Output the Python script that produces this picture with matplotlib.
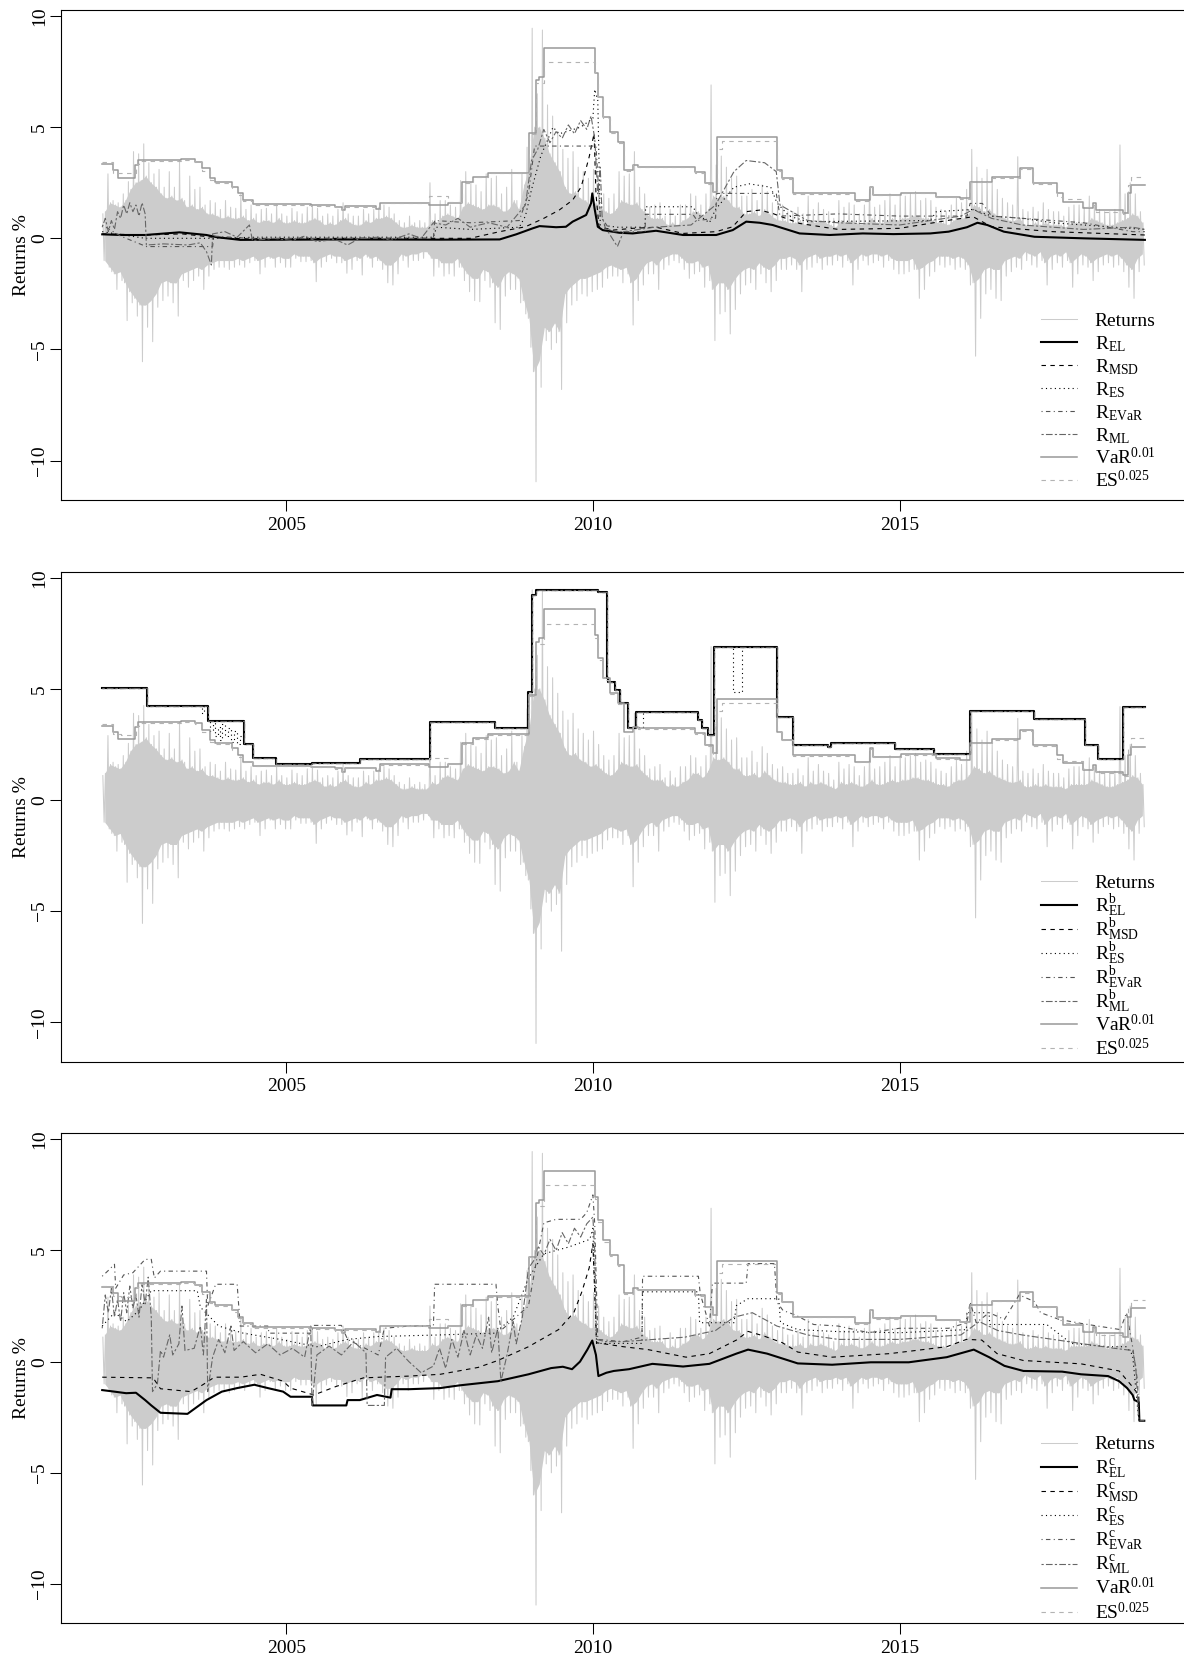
import matplotlib
matplotlib.use('Agg')
import matplotlib.pyplot as plt
import numpy as np

plt.rcParams['font.family'] = ['Liberation Serif', 'DejaVu Serif']
plt.rcParams['mathtext.fontset'] = 'custom'
plt.rcParams['mathtext.rm'] = 'Liberation Serif'
plt.rcParams['mathtext.it'] = 'Liberation Serif:italic'
plt.rcParams['mathtext.bf'] = 'Liberation Serif:bold'

# ---------------- data ----------------
# monthly extreme daily returns (%), Jan 2002 .. Dec 2018
ret_hi = [1.1, 2.9, 1.7, 1.6, 2.0, 2.55, 3.9, 3.8, 4.25, 3.4, 2.9, 3.1,
          2.3, 3.0, 2.3, 3.5, 1.7, 2.8, 2.2, 2.3, 1.5, 1.7, 1.6, 1.3,
          1.7, 1.4, 1.35, 2.0, 1.3, 1.5, 1.1, 1.3, 1.35, 1.1, 1.5, 1.1,
          1.0, 1.35, 1.2, 1.1, 1.4, 1.5, 1.35, 1.0, 1.1, 1.0, 1.3, 1.6,
          1.1, 1.0, 1.0, 1.3, 1.1, 1.3, 1.4, 1.5, 1.4, 1.1, 0.8, 0.7,
          1.0, 0.7, 0.8, 0.7, 2.5, 1.1, 1.7, 1.7, 1.5, 1.4, 2.6, 3.0,
          2.5, 2.4, 2.1, 2.9, 2.7, 2.8, 2.0, 2.3, 3.1, 1.7, 2.9, 4.1,
          9.45, 6.5, 9.37, 6.0, 5.5, 4.8, 4.0, 3.6, 3.9, 3.2, 3.0, 2.7,
          3.1, 2.5, 2.0, 1.8, 2.0, 3.0, 2.8, 2.9, 3.9, 2.3, 2.0, 1.4,
          1.5, 1.6, 1.0, 1.3, 1.0, 1.5, 1.5, 2.0, 1.9, 1.5, 2.0, 6.9,
          3.3, 3.7, 3.2, 2.7, 2.8, 1.9, 1.9, 2.2, 1.7, 2.4, 2.1, 1.6,
          1.4, 1.5, 1.2, 1.2, 1.4, 1.1, 1.9, 1.3, 1.6, 1.3, 1.2, 0.9,
          1.7, 1.4, 1.6, 1.5, 1.1, 1.5, 2.2, 1.4, 1.5, 1.7, 2.0, 1.5,
          2.0, 1.9, 2.0, 2.1, 1.7, 1.8, 1.7, 1.4, 1.3, 1.2, 1.5, 1.8,
          1.6, 2.2, 4.0, 3.2, 2.7, 3.1, 2.5, 2.2, 1.8, 1.6, 1.5, 3.67,
          1.3, 1.2, 1.4, 1.2, 1.6, 1.3, 1.2, 1.2, 1.0, 1.4, 1.5, 1.5,
          1.4, 1.9, 1.5, 1.3, 1.2, 1.2, 1.3, 4.2, 2.0, 2.5, 2.0, 1.2]
ret_lo = [-1.0, -1.5, -2.3, -1.9, -3.7, -2.9, -3.5, -5.55, -4.0, -4.65, -3.1, -2.8,
          -2.6, -2.9, -3.5, -1.9, -2.2, -1.9, -1.7, -2.3, -1.7, -1.4, -1.3, -1.3,
          -1.4, -1.3, -1.2, -1.3, -1.1, -1.0, -1.6, -1.3, -0.9, -1.3, -1.1, -1.3,
          -1.3, -0.9, -1.05, -1.05, -1.0, -1.95, -1.3, -1.05, -0.9, -1.1, -1.1, -1.57,
          -1.4, -1.0, -1.65, -0.85, -1.3, -1.0, -1.4, -2.0, -2.1, -1.6, -1.0, -1.3,
          -1.0, -1.0, -0.9, -0.7, -1.7, -1.3, -1.7, -1.6, -1.7, -1.3, -1.9, -2.4,
          -2.8, -2.85, -1.9, -2.2, -3.8, -4.1, -2.6, -2.3, -2.3, -2.9, -3.4, -4.9,
          -10.95, -6.7, -4.6, -5.0, -4.7, -6.8, -3.8, -3.0, -2.8, -2.5, -2.6, -2.4,
          -2.3, -2.2, -1.8, -1.7, -1.7, -2.0, -1.6, -3.9, -2.8, -2.1, -1.6, -1.6,
          -2.3, -1.4, -1.2, -1.0, -1.1, -1.4, -1.8, -1.6, -1.5, -2.2, -1.9, -4.6,
          -3.4, -3.3, -4.3, -3.2, -2.5, -2.1, -2.0, -2.3, -1.6, -2.0, -2.4, -1.9,
          -1.4, -1.4, -1.2, -1.4, -2.4, -1.4, -1.3, -1.1, -1.4, -1.2, -1.2, -1.0,
          -1.3, -1.0, -2.1, -1.4, -1.0, -1.2, -1.1, -1.0, -1.3, -1.0, -1.4, -1.6,
          -1.6, -1.5, -1.4, -2.7, -2.3, -1.7, -1.5, -1.2, -1.3, -1.2, -1.4, -1.3,
          -1.4, -2.1, -5.3, -3.6, -2.5, -2.3, -2.7, -2.8, -1.7, -1.5, -1.3, -1.4,
          -1.0, -1.2, -1.3, -1.0, -2.1, -1.4, -1.1, -1.3, -1.0, -2.2, -1.6, -1.2,
          -1.3, -1.9, -1.5, -1.2, -1.1, -1.3, -1.2, -1.5, -2.2, -2.7, -1.5, -1.2]
# monthly dense band of daily returns (%), Jan 2002 .. Dec 2018
core_hi = [1.2, 1.6, 1.5, 1.4, 1.7, 2.2, 2.5, 2.6, 2.8, 2.5, 2.3, 2.0,
           1.8, 1.9, 1.7, 1.8, 1.4, 1.5, 1.3, 1.4, 1.1, 1.1, 1.0, 0.9,
           1.0, 0.9, 0.9, 1.0, 0.8, 0.9, 0.7, 0.8, 0.8, 0.7, 0.9, 0.7,
           0.7, 0.8, 0.7, 0.7, 0.8, 0.9, 0.8, 0.6, 0.7, 0.6, 0.8, 0.9,
           0.7, 0.6, 0.6, 0.8, 0.7, 0.9, 0.9, 1.0, 0.9, 0.7, 0.5, 0.5,
           0.6, 0.5, 0.5, 0.5, 0.8, 0.7, 1.0, 1.1, 1.0, 0.9, 1.4, 1.6,
           1.5, 1.4, 1.3, 1.5, 1.5, 1.4, 1.2, 1.3, 1.7, 1.3, 2.4, 3.2,
           5.0, 5.0, 4.5, 3.8, 3.4, 3.0, 2.3, 2.0, 2.1, 1.8, 1.7, 1.5,
           1.6, 1.4, 1.2, 1.1, 1.3, 1.7, 1.6, 1.5, 1.6, 1.3, 1.1, 0.9,
           0.9, 0.9, 0.6, 0.7, 0.6, 0.8, 0.9, 1.2, 1.2, 1.0, 1.3, 1.9,
           1.8, 1.9, 1.7, 1.4, 1.4, 1.1, 1.1, 1.2, 1.0, 1.3, 1.1, 0.9,
           0.8, 0.8, 0.7, 0.7, 0.8, 0.6, 0.8, 0.7, 0.8, 0.7, 0.6, 0.5,
           0.8, 0.7, 0.8, 0.7, 0.6, 0.7, 0.9, 0.7, 0.7, 0.8, 0.9, 0.8,
           0.9, 0.9, 1.0, 1.0, 0.9, 0.9, 0.8, 0.7, 0.7, 0.6, 0.8, 0.9,
           0.9, 1.1, 1.5, 1.4, 1.2, 1.3, 1.1, 1.0, 0.9, 0.8, 0.8, 0.9,
           0.6, 0.6, 0.7, 0.6, 0.7, 0.6, 0.6, 0.6, 0.5, 0.7, 0.7, 0.7,
           0.7, 0.9, 0.8, 0.7, 0.6, 0.6, 0.7, 0.8, 0.9, 1.1, 1.0, 0.7]
core_lo = [-1.0, -1.3, -1.6, -1.5, -2.0, -2.4, -2.7, -3.0, -3.0, -2.8, -2.5, -2.0,
           -1.9, -2.0, -2.0, -1.6, -1.5, -1.4, -1.3, -1.4, -1.2, -1.1, -1.0, -1.0,
           -1.0, -1.0, -0.9, -1.0, -0.9, -0.8, -1.0, -0.9, -0.8, -0.9, -0.8, -0.9,
           -0.9, -0.7, -0.8, -0.8, -0.8, -1.1, -0.9, -0.8, -0.7, -0.8, -0.8, -1.0,
           -0.9, -0.8, -0.9, -0.7, -0.9, -0.8, -1.0, -1.2, -1.2, -1.0, -0.7, -0.8,
           -0.7, -0.7, -0.6, -0.6, -0.9, -0.9, -1.1, -1.1, -1.1, -0.9, -1.3, -1.6,
           -1.8, -1.8, -1.4, -1.5, -2.0, -2.2, -1.7, -1.5, -1.6, -1.8, -2.8, -3.6,
           -6.0, -5.5, -4.0, -4.2, -3.8, -4.2, -2.5, -2.2, -2.0, -1.8, -1.8, -1.7,
           -1.6, -1.5, -1.3, -1.2, -1.3, -1.4, -1.3, -2.0, -1.8, -1.4, -1.1, -1.0,
           -1.2, -0.9, -0.8, -0.7, -0.7, -0.9, -1.1, -1.1, -1.0, -1.3, -1.2, -2.3,
           -2.0, -2.0, -2.3, -1.9, -1.6, -1.4, -1.3, -1.4, -1.1, -1.3, -1.4, -1.2,
           -0.9, -0.9, -0.8, -0.9, -1.2, -0.9, -0.8, -0.7, -0.9, -0.8, -0.8, -0.7,
           -0.8, -0.7, -1.1, -0.9, -0.7, -0.8, -0.7, -0.7, -0.8, -0.7, -0.9, -1.0,
           -1.0, -1.0, -0.9, -1.4, -1.3, -1.1, -1.0, -0.8, -0.8, -0.8, -0.9, -0.8,
           -0.9, -1.2, -2.0, -1.8, -1.4, -1.3, -1.4, -1.4, -1.0, -0.9, -0.8, -0.9,
           -0.6, -0.7, -0.8, -0.6, -1.1, -0.8, -0.7, -0.8, -0.6, -1.1, -0.9, -0.7,
           -0.8, -1.1, -0.9, -0.8, -0.7, -0.8, -0.7, -0.9, -1.2, -1.4, -0.9, -0.7]

VAR = [(2002.0, 3.34), (2002.18, 3.07), (2002.26, 2.73), (2002.535, 3.30), (2002.59, 3.52),
       (2003.28, 3.57), (2003.51, 3.45), (2003.62, 3.15), (2003.76, 2.70), (2003.84, 2.55),
       (2004.11, 2.32), (2004.22, 2.02), (2004.30, 1.72), (2004.46, 1.54), (2005.41, 1.50),
       (2005.80, 1.42), (2005.905, 1.27), (2005.96, 1.45), (2006.47, 1.32), (2006.53, 1.60),
       (2007.32, 1.50), (2007.64, 1.60), (2007.86, 2.55), (2008.05, 2.77), (2008.29, 2.95),
       (2008.96, 4.72), (2009.08, 7.12), (2009.12, 7.27), (2009.20, 8.58), (2010.03, 7.42),
       (2010.09, 6.37), (2010.17, 5.47), (2010.28, 4.80), (2010.41, 4.35), (2010.50, 3.07),
       (2010.66, 3.30), (2010.74, 3.22), (2011.66, 3.0), (2011.83, 2.47), (2011.96, 2.10),
       (2012.02, 4.54), (2012.995, 3.07), (2013.08, 2.70), (2013.27, 2.02), (2014.27, 1.72),
       (2014.52, 2.32), (2014.57, 1.95), (2015.03, 2.05), (2015.60, 1.87), (2015.98, 1.80),
       (2016.15, 2.55), (2016.50, 2.74), (2016.96, 3.15), (2017.18, 2.47), (2017.56, 2.02),
       (2017.67, 1.65), (2017.995, 1.35), (2018.16, 1.57), (2018.21, 1.27), (2018.65, 1.12),
       (2018.72, 2.02), (2018.78, 2.40), (2019.0, 2.40)]
ESQ = [(2002.0, 3.42), (2002.18, 2.95), (2002.3, 2.92), (2002.55, 3.35), (2002.6, 3.48),
       (2003.28, 3.52), (2003.51, 3.42), (2003.62, 3.05), (2003.76, 2.62), (2003.84, 2.5),
       (2004.11, 2.25), (2004.22, 1.95), (2004.30, 1.70), (2004.46, 1.52), (2005.41, 1.47),
       (2005.80, 1.40), (2005.905, 1.27), (2005.96, 1.43), (2006.47, 1.32), (2006.53, 1.58),
       (2007.32, 1.9), (2007.64, 1.62), (2007.86, 2.5), (2008.05, 2.75), (2008.29, 2.92),
       (2008.96, 4.7), (2009.08, 7.0), (2009.2, 7.93), (2010.03, 7.3), (2010.09, 6.3),
       (2010.17, 5.4), (2010.28, 4.75), (2010.41, 4.3), (2010.50, 3.05), (2010.66, 3.28),
       (2010.74, 3.2), (2011.66, 2.95), (2011.83, 2.45), (2011.96, 2.08), (2012.02, 4.0),
       (2012.1, 4.38), (2012.995, 3.05), (2013.08, 2.68), (2013.27, 2.0), (2014.27, 1.7),
       (2014.52, 2.3), (2014.57, 1.93), (2015.03, 2.03), (2015.60, 1.85), (2015.98, 1.78),
       (2016.15, 2.55), (2016.50, 2.72), (2016.96, 3.1), (2017.18, 2.45), (2017.56, 1.85),
       (2017.67, 1.75), (2017.995, 1.4), (2018.16, 1.5), (2018.21, 1.2), (2018.65, 1.1),
       (2018.72, 2.4), (2018.78, 2.77), (2019.0, 2.77)]

# panel 1 : R
R_EL = [(2002.0, 0.18), (2002.3, 0.15), (2002.7, 0.15), (2003.26, 0.27), (2003.7, 0.15),
        (2003.87, 0.05), (2004.25, -0.07), (2006.0, -0.05), (2007.5, -0.06), (2008.48, -0.05),
        (2008.75, 0.18), (2009.02, 0.45), (2009.13, 0.55), (2009.40, 0.5), (2009.56, 0.52),
        (2009.67, 0.75), (2009.89, 1.05), (2009.97, 1.57), (2009.99, 2.02), (2010.03, 1.3),
        (2010.08, 0.52), (2010.16, 0.37), (2010.43, 0.25), (2010.65, 0.22), (2011.03, 0.34),
        (2011.47, 0.15), (2012.01, 0.15), (2012.28, 0.37), (2012.5, 0.75), (2012.72, 0.7),
        (2012.93, 0.6), (2013.37, 0.22), (2013.86, 0.15), (2014.4, 0.22), (2014.9, 0.19),
        (2015.5, 0.22), (2015.8, 0.3), (2016.1, 0.5), (2016.27, 0.7), (2016.43, 0.6),
        (2016.7, 0.3), (2017.2, 0.07), (2018.0, 0.0), (2019.0, -0.07)]
R_MSD = [(2002.0, 0.2), (2002.7, 0.15), (2003.3, 0.2), (2003.8, 0.05), (2004.3, -0.02),
         (2006.0, 0.0), (2008.0, 0.0), (2008.48, 0.3), (2008.9, 0.52), (2009.2, 0.9),
         (2009.45, 1.27), (2009.67, 1.72), (2009.81, 2.32), (2009.94, 3.67), (2010.02, 4.72),
         (2010.05, 2.0), (2010.1, 0.52), (2010.33, 0.37), (2010.65, 0.45), (2011.03, 0.5),
         (2011.47, 0.22), (2012.01, 0.3), (2012.28, 0.52), (2012.5, 1.2), (2012.72, 1.27),
         (2012.93, 1.12), (2013.37, 0.67), (2014.0, 0.4), (2015.0, 0.45), (2015.82, 0.82),
         (2016.2, 0.97), (2016.5, 0.52), (2017.5, 0.3), (2019.0, 0.15)]
R_ES = [(2002.0, 0.3), (2002.7, 0.0), (2003.8, 0.0), (2004.5, 0.05), (2007.4, 0.05),
        (2007.45, 0.5), (2008.0, 0.4), (2008.8, 0.5), (2008.9, 1.0), (2009.0, 2.2),
        (2009.15, 3.7), (2009.35, 5.0), (2009.45, 4.7), (2009.8, 5.0), (2010.0, 5.4),
        (2010.03, 6.7), (2010.08, 6.2), (2010.12, 0.6), (2010.4, 0.5), (2010.85, 0.5),
        (2010.86, 1.42), (2011.63, 1.42), (2011.7, 1.1), (2011.9, 0.7), (2012.0, 1.3),
        (2012.3, 2.3), (2012.55, 2.45), (2012.9, 2.3), (2013.0, 1.6), (2013.2, 1.0),
        (2013.5, 0.75), (2015.5, 0.8), (2015.6, 1.2), (2016.2, 1.3), (2016.5, 1.0),
        (2017.0, 0.9), (2017.5, 0.7), (2018.5, 0.5), (2019.0, 0.4)]
R_EVAR = [(2002.0, 0.6), (2002.3, 0.1), (2002.72, -0.37), (2003.8, -0.37), (2003.82, 0.1),
          (2004.4, 0.0), (2007.4, 0.0), (2007.42, 0.8), (2008.0, 0.7), (2008.8, 0.8),
          (2008.95, 2.0), (2009.05, 4.15), (2010.05, 4.15), (2010.12, 1.0), (2010.3, 0.3),
          (2010.85, 0.3), (2010.86, 1.08), (2011.63, 1.08), (2011.7, 0.8), (2012.0, 0.9),
          (2012.02, 2.02), (2012.99, 2.02), (2013.05, 1.0), (2014.0, 1.1), (2015.0, 1.0),
          (2016.1, 1.0), (2016.15, 1.57), (2016.35, 1.57), (2016.5, 1.0), (2017.0, 0.9),
          (2018.0, 0.7), (2018.8, 0.3), (2019.0, 0.3)]
R_ML = [(2002.0, 0.5), (2002.05, 0.9), (2002.1, 0.3), (2002.15, 0.8), (2002.2, 0.4),
        (2002.25, 1.2), (2002.3, 0.9), (2002.35, 1.5), (2002.4, 1.1), (2002.45, 1.6),
        (2002.5, 1.2), (2002.55, 1.5), (2002.6, 1.0), (2002.65, 1.6), (2002.7, 1.1),
        (2002.72, -0.3), (2003.0, -0.25), (2003.4, -0.3), (2003.6, -0.2), (2003.7, -0.6),
        (2003.78, -1.2), (2003.8, 0.2), (2004.0, 0.3), (2004.2, 0.05), (2004.4, 0.6),
        (2004.45, -0.1), (2004.8, 0.0), (2005.1, -0.1), (2005.3, 0.1), (2005.5, -0.15),
        (2005.8, -0.05), (2006.0, -0.3), (2006.2, 0.0), (2006.5, 0.05), (2006.7, -0.1),
        (2007.0, 0.2), (2007.2, 0.0), (2007.4, 0.7), (2007.6, 0.6), (2007.8, 0.9),
        (2008.0, 0.5), (2008.3, 0.7), (2008.6, 0.5), (2008.9, 1.5), (2009.0, 3.5),
        (2009.1, 4.0), (2009.2, 4.9), (2009.3, 4.3), (2009.4, 4.8), (2009.5, 4.5),
        (2009.6, 5.1), (2009.7, 4.7), (2009.8, 5.3), (2009.9, 4.9), (2009.97, 5.5),
        (2010.03, 4.5), (2010.08, 2.0), (2010.12, 3.2), (2010.15, 1.0), (2010.2, 0.5),
        (2010.4, -0.37), (2010.5, 0.3), (2011.0, 0.5), (2011.6, 0.6), (2012.0, 1.5),
        (2012.3, 3.0), (2012.5, 3.5), (2012.8, 3.4), (2012.99, 3.0), (2013.05, 1.5),
        (2013.5, 0.8), (2014.0, 0.7), (2015.0, 0.6), (2016.0, 1.0), (2016.2, 1.3),
        (2016.5, 0.9), (2017.0, 0.6), (2018.0, 0.4), (2018.8, 0.5), (2019.0, 0.4)]

# panel 2 : R^b (step functions)
B_EL = [(2002.0, 5.05), (2002.725, 4.24), (2003.73, 3.57), (2004.31, 2.52), (2004.46, 1.9),
        (2004.83, 1.62), (2005.42, 1.68), (2006.21, 1.86), (2007.34, 3.52), (2008.40, 3.22),
        (2008.95, 4.87), (2009.0, 9.22), (2009.07, 9.45), (2010.09, 9.37), (2010.225, 5.47),
        (2010.25, 5.32), (2010.36, 4.95), (2010.44, 4.35), (2010.58, 3.22), (2010.70, 3.97),
        (2011.72, 3.6), (2011.78, 3.22), (2011.88, 2.92), (2011.98, 6.9), (2012.995, 3.75),
        (2013.27, 2.47), (2013.84, 2.4), (2013.89, 2.55), (2014.925, 2.29), (2015.56, 2.08),
        (2016.15, 4.0), (2017.19, 3.64), (2018.02, 2.47), (2018.24, 1.83), (2018.65, 4.17),
        (2019.0, 4.17)]
B_MSD = B_EL
B_EVAR = B_EL
B_ML = B_EL
B_ES = [(2002.0, 5.05), (2002.725, 4.24), (2003.62, 3.9), (2003.66, 4.24), (2003.73, 3.57),
        (2003.76, 3.1), (2003.8, 3.45), (2003.84, 2.9), (2003.88, 3.3), (2003.92, 2.7),
        (2003.96, 3.4), (2004.0, 2.9), (2004.05, 3.25), (2004.1, 2.6), (2004.15, 3.1),
        (2004.2, 2.5), (2004.25, 2.9), (2004.31, 2.52), (2004.46, 1.9), (2004.83, 1.62),
        (2005.42, 1.68), (2006.21, 1.86), (2007.34, 3.52), (2008.40, 3.22), (2008.95, 4.87),
        (2009.0, 9.22), (2009.07, 9.45), (2010.09, 9.37), (2010.225, 5.47), (2010.25, 5.32),
        (2010.36, 4.95), (2010.44, 4.35), (2010.58, 3.22), (2010.70, 3.3), (2010.82, 3.97),
        (2011.72, 3.6), (2011.78, 3.22), (2011.88, 2.92), (2011.98, 6.9), (2012.29, 4.85),
        (2012.43, 6.9), (2012.995, 3.75), (2013.27, 2.47), (2013.84, 2.4), (2013.89, 2.55),
        (2014.925, 2.29), (2015.56, 2.08), (2016.15, 4.0), (2017.19, 3.64), (2018.02, 2.47),
        (2018.24, 1.83), (2018.65, 4.17), (2019.0, 4.17)]

# panel 3 : R^c
C_EL = [(2002.0, -1.28), (2002.2, -1.35), (2002.39, -1.42), (2002.55, -1.40), (2002.70, -1.73),
        (2002.80, -1.97), (2002.95, -2.3), (2003.39, -2.35), (2003.58, -1.97), (2003.70, -1.73),
        (2003.95, -1.35), (2004.2, -1.19), (2004.48, -1.04), (2004.70, -1.19), (2004.95, -1.35),
        (2005.07, -1.58), (2005.42, -1.58), (2005.43, -1.97), (2005.98, -1.97), (2006.0, -1.73),
        (2006.2, -1.73), (2006.48, -1.5), (2006.70, -1.62), (2006.72, -1.24), (2007.01, -1.24),
        (2007.51, -1.19), (2007.82, -1.07), (2008.45, -0.88), (2008.95, -0.57), (2009.32, -0.29),
        (2009.51, -0.23), (2009.66, -0.34), (2009.79, 0.0), (2009.91, 0.54), (2009.99, 0.95),
        (2010.05, 0.3), (2010.09, -0.65), (2010.22, -0.5), (2010.34, -0.42), (2010.59, -0.34),
        (2010.97, -0.1), (2011.47, -0.22), (2011.9, -0.1), (2012.34, 0.36), (2012.53, 0.54),
        (2012.84, 0.36), (2013.34, -0.08), (2013.9, -0.14), (2014.53, -0.03), (2015.15, -0.03),
        (2015.77, 0.2), (2016.21, 0.54), (2016.46, 0.2), (2016.71, -0.19), (2017.02, -0.42),
        (2017.65, -0.45), (2017.96, -0.57), (2018.4, -0.65), (2018.58, -0.88), (2018.71, -1.19),
        (2018.8, -1.5), (2018.83, -1.73), (2018.9, -1.81), (2018.91, -2.66), (2018.99, -2.66)]
C_MSD = [(2002.0, -0.7), (2002.83, -0.73), (2002.95, -1.22), (2003.45, -1.35), (2003.64, -1.04),
         (2003.83, -0.7), (2004.26, -0.7), (2004.58, -0.57), (2004.95, -0.88), (2005.07, -1.19),
         (2005.45, -1.5), (2005.82, -1.11), (2006.26, -0.73), (2007.01, -0.65), (2007.51, -0.57),
         (2008.13, -0.26), (2008.45, 0.05), (2008.95, 0.67), (2009.44, 1.44), (2009.69, 2.21),
         (2009.82, 3.14), (2009.94, 4.22), (2010.0, 5.3), (2010.06, 0.85), (2010.5, 0.67),
         (2010.9, 0.54), (2011.52, 0.2), (2011.9, 0.36), (2012.34, 0.97), (2012.53, 1.36),
         (2012.78, 1.16), (2013.09, 0.85), (2013.34, 0.43), (2013.9, 0.2), (2014.84, 0.36),
         (2015.77, 0.67), (2016.09, 1.0), (2016.34, 0.97), (2016.59, 0.36), (2017.02, 0.05),
         (2017.96, -0.1), (2018.58, -0.42), (2018.77, -1.04), (2018.9, -1.5), (2018.91, -2.66),
         (2018.99, -2.66)]
C_ES = [(2002.0, 1.6), (2002.2, 2.2), (2002.4, 1.8), (2002.6, 2.3), (2002.8, 3.19),
        (2003.55, 3.19), (2003.6, 2.45), (2003.9, 1.6), (2004.3, 1.28), (2004.9, 1.0),
        (2005.5, 0.67), (2006.0, 1.0), (2006.5, 1.13), (2007.5, 1.2), (2008.4, 1.28),
        (2008.7, 2.0), (2008.95, 3.76), (2009.2, 4.85), (2009.6, 5.15), (2009.95, 5.5),
        (2010.0, 6.0), (2010.06, 0.82), (2010.8, 0.82), (2010.81, 3.14), (2011.72, 3.14),
        (2011.74, 1.75), (2012.3, 1.75), (2012.34, 2.52), (2012.53, 2.83), (2013.03, 2.83),
        (2013.06, 1.75), (2013.34, 1.44), (2014.0, 1.35), (2015.0, 1.3), (2016.09, 1.44),
        (2016.1, 2.2), (2016.46, 2.2), (2016.47, 1.67), (2017.4, 1.67), (2017.8, 0.82),
        (2018.4, 0.67), (2018.7, 0.67), (2018.8, 0.3), (2018.9, -2.66), (2018.99, -2.66)]
C_EVAR = [(2002.0, 3.84), (2002.1, 4.1), (2002.2, 4.38), (2002.22, 3.3), (2002.35, 3.9),
          (2002.5, 4.0), (2002.7, 4.6), (2002.8, 4.6), (2002.85, 3.76), (2002.95, 4.07),
          (2003.7, 4.07), (2003.72, 2.5), (2003.85, 3.48), (2004.2, 3.48), (2004.25, 1.6),
          (2004.7, 1.6), (2004.72, 1.28), (2005.4, 1.28), (2005.45, 1.63), (2005.9, 1.63),
          (2006.0, 1.0), (2006.5, 0.3), (2006.6, 1.5), (2007.0, 1.6), (2007.4, 1.6),
          (2007.42, 3.48), (2008.42, 3.48), (2008.45, 2.5), (2008.5, 1.4), (2008.95, 2.5),
          (2009.1, 4.85), (2009.2, 6.24), (2009.4, 6.4), (2009.8, 6.4), (2009.9, 6.7),
          (2010.0, 7.5), (2010.03, 6.2), (2010.08, 1.0), (2010.5, 0.9), (2010.8, 1.1),
          (2010.81, 3.84), (2011.72, 3.84), (2011.75, 3.07), (2011.9, 1.6), (2011.95, 3.53),
          (2012.5, 3.53), (2012.53, 4.41), (2012.96, 4.41), (2013.0, 2.68), (2013.1, 2.3),
          (2013.3, 2.1), (2013.6, 1.67), (2014.0, 1.6), (2014.5, 1.3), (2015.0, 1.5),
          (2015.8, 1.5), (2016.1, 1.75), (2016.15, 2.68), (2016.25, 1.75), (2016.46, 2.2),
          (2016.71, 1.9), (2016.95, 3.0), (2017.2, 2.7), (2017.3, 2.2), (2017.6, 1.9),
          (2018.0, 1.7), (2018.6, 1.44), (2018.7, 2.2), (2018.8, 0.67), (2018.88, -0.88),
          (2018.9, -2.66), (2018.99, -2.66)]
C_ML = [(2002.0, 1.5), (2002.05, 3.0), (2002.1, 2.2), (2002.15, 3.3), (2002.2, 2.0),
        (2002.25, 2.8), (2002.3, 1.8), (2002.35, 3.1), (2002.4, 2.2), (2002.45, 3.4),
        (2002.5, 2.4), (2002.55, 3.0), (2002.6, 2.0), (2002.65, 3.5), (2002.7, 2.6),
        (2002.75, 3.8), (2002.8, 2.0), (2002.82, -1.35), (2002.9, -1.0), (2002.95, 0.5),
        (2003.0, 0.2), (2003.1, 1.2), (2003.15, 0.3), (2003.25, 0.8), (2003.3, 2.5),
        (2003.35, 0.5), (2003.5, 0.6), (2003.6, 1.6), (2003.65, 0.3), (2003.7, 2.8),
        (2003.72, -1.35), (2003.8, 0.2), (2003.9, 1.0), (2004.0, 0.4), (2004.1, 1.6),
        (2004.15, 0.5), (2004.3, 0.9), (2004.5, 0.4), (2004.7, 0.8), (2004.9, 0.3),
        (2005.1, 0.6), (2005.3, 0.2), (2005.4, 1.6), (2005.42, -1.97), (2005.5, 0.3),
        (2005.7, 0.7), (2005.9, 0.3), (2006.1, 0.9), (2006.3, 0.4), (2006.32, -1.97),
        (2006.6, -1.97), (2006.62, 0.2), (2006.8, 0.6), (2007.0, 0.0), (2007.2, -0.5),
        (2007.4, -0.2), (2007.5, 0.6), (2007.6, -0.3), (2007.7, 1.0), (2007.8, 0.2),
        (2007.9, 1.4), (2008.0, 0.3), (2008.1, 1.2), (2008.2, 0.6), (2008.3, 2.0),
        (2008.35, 0.4), (2008.45, 1.5), (2008.5, -0.9), (2008.6, 0.3), (2008.7, 1.8),
        (2008.75, 0.8), (2008.85, 2.0), (2008.95, 4.2), (2009.05, 4.6), (2009.1, 5.2),
        (2009.2, 4.8), (2009.3, 5.5), (2009.4, 5.0), (2009.5, 5.8), (2009.6, 5.3),
        (2009.7, 6.0), (2009.8, 5.6), (2009.9, 6.2), (2010.0, 6.5), (2010.03, 5.0),
        (2010.06, 1.0), (2010.2, 0.9), (2010.5, 0.9), (2011.0, 1.0), (2011.5, 1.1),
        (2012.0, 1.4), (2012.3, 2.0), (2012.6, 2.2), (2013.0, 1.6), (2013.5, 1.2),
        (2014.0, 1.0), (2015.0, 1.0), (2016.0, 1.2), (2016.3, 1.8), (2016.6, 1.4),
        (2017.0, 1.2), (2017.5, 1.0), (2018.0, 0.8), (2018.5, 0.6), (2018.8, 0.5),
        (2018.85, -0.2), (2018.9, -2.66), (2018.99, -2.66)]

year_ticks = [2005, 2010, 2015]
y_ticks = [-10, -5, 0, 5, 10]
START_YEAR = 2002

# ---------------- styles ----------------
STY = {
    'ret': dict(color='#CCCCCC', lw=0.75),
    'el': dict(color='black', lw=1.5),
    'msd': dict(color='black', lw=0.8, ls=(0, (4, 4))),
    'es': dict(color='black', lw=0.8, ls=(0, (1, 3))),
    'evar': dict(color='#555555', lw=0.8, ls=(0, (1, 3, 4, 3))),
    'ml': dict(color='#666666', lw=0.8, ls=(0, (2, 2, 6, 2))),
    'var': dict(color='#999999', lw=1.1),
    'esq': dict(color='#B3B3B3', lw=0.8, ls=(0, (4, 4))),
}

W, H = 1184, 1659
fig = plt.figure(figsize=(W / 100, H / 100), dpi=100)
left_px, right_px = 60.5, 1186.6
panel_h = 490.0
tops = [10.0, 571.7, 1133.3]
leg_step = [23.0, 23.9, 24.2]


def unzip(pairs):
    t, v = zip(*pairs)
    return np.array(t), np.array(v)


def draw_returns(ax):
    n = len(ret_hi)
    m = np.arange(n)
    base = START_YEAR + m / 12.0
    # per month: extreme up, dense-band low, dense-band high, extreme down
    xs = np.empty(4 * n)
    ys = np.empty(4 * n)
    xs[0::4] = base + 0.125 / 12
    xs[1::4] = base + 0.375 / 12
    xs[2::4] = base + 0.625 / 12
    xs[3::4] = base + 0.875 / 12
    ys[0::4] = ret_hi
    ys[1::4] = core_lo
    ys[2::4] = core_hi
    ys[3::4] = ret_lo
    tc = base + 0.5 / 12
    ax.fill_between(tc, core_lo, core_hi, color='#CCCCCC', lw=0, zorder=1)
    ax.plot(xs, ys, zorder=1, **STY['ret'])


def line(ax, pairs, key, steps=False):
    t, v = unzip(pairs)
    kw = dict(STY[key])
    if steps:
        ax.plot(t, v, drawstyle='steps-post', zorder=2, **kw)
    else:
        ax.plot(t, v, zorder=2, **kw)


def legend(ax, labels, step):
    keys = ['ret', 'el', 'msd', 'es', 'evar', 'ml', 'var', 'esq']
    for i, (lab, k) in enumerate(zip(labels, keys)):
        yc = 1 - (309.3 + step * i) / panel_h
        kw = dict(STY[k])
        ax.plot([0.8703, 0.9024], [yc, yc], transform=ax.transAxes, zorder=5, **kw)
        ax.text(0.9184, yc - 6.6 / panel_h, lab, transform=ax.transAxes,
                ha='left', va='baseline', fontsize=14, zorder=5)


def labels_for(sup):
    s = r'^{\mathrm{%s}}' % sup if sup else ''
    out = ['Returns']
    for sub in ['EL', 'MSD', 'ES', 'EVaR', 'ML']:
        out.append(r'$\mathrm{R}%s_{\mathrm{%s}}$' % (s, sub))
    out.append(r'$\mathrm{VaR}^{\mathrm{0.01}}$')
    out.append(r'$\mathrm{ES}^{\mathrm{0.025}}$')
    return out


panels = [
    dict(el=R_EL, msd=R_MSD, es=R_ES, evar=R_EVAR, ml=R_ML, steps=False, sup=''),
    dict(el=B_EL, msd=B_MSD, es=B_ES, evar=B_EVAR, ml=B_ML, steps=True, sup='b'),
    dict(el=C_EL, msd=C_MSD, es=C_ES, evar=C_EVAR, ml=C_ML, steps=False, sup='c'),
]

for pi, (top, P) in enumerate(zip(tops, panels)):
    ax = fig.add_axes([left_px / W, 1 - (top + panel_h) / H,
                       (right_px - left_px) / W, panel_h / H])
    draw_returns(ax)
    for key in ['el', 'msd', 'es', 'evar', 'ml']:
        line(ax, P[key], key, steps=P['steps'])
    line(ax, VAR, 'var', steps=True)
    line(ax, ESQ, 'esq', steps=True)

    ax.set_xlim(2001.32, 2019.68)
    ax.set_ylim(-11.77, 10.27)
    ax.set_xticks(year_ticks)
    ax.set_xticklabels([str(y) for y in year_ticks])
    ax.set_yticks(y_ticks)
    ax.set_yticklabels(['\u221210', '\u22125', '0', '5', '10'])
    for lab in ax.get_yticklabels():
        lab.set_rotation(90)
        lab.set_va('center')
    ax.tick_params(axis='both', direction='out', length=7.9, width=0.75,
                   labelsize=14, color='black')
    ax.tick_params(axis='x', pad=4)
    ax.tick_params(axis='y', pad=1.0)
    for sp in ax.spines.values():
        sp.set_linewidth(0.8)
        sp.set_color('black')
    legend(ax, labels_for(P['sup']), leg_step[pi])
    fig.text(21.0 / W, 1 - (top + panel_h / 2) / H, 'Returns %', rotation=90,
             ha='center', va='center', fontsize=14)

fig.savefig('out.png', dpi=100)
